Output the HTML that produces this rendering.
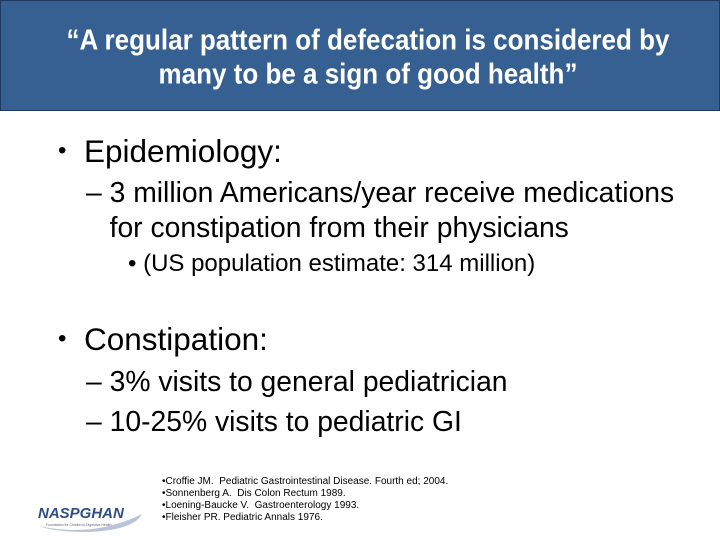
<!DOCTYPE html>
<html><head><meta charset="utf-8"><style>
body{margin:0;width:720px;height:540px;background:#fff;position:relative;overflow:hidden;font-family:"Liberation Sans",sans-serif;color:#000}
#hdr{position:absolute;left:0;top:0;width:718px;height:109px;background:#366092;border:1px solid #1f3a60}
#title{position:absolute;left:0;top:26px;width:736px;text-align:center;color:#fff;font-weight:bold;font-size:26px;line-height:31px;transform:scaleY(1.1)}
.t{position:absolute;white-space:nowrap;line-height:1.15}
.b{position:absolute;left:58px;font-size:24px}
.l1{font-size:31.5px;left:84px}
.l2{font-size:28.3px;left:86px}
.l3{font-size:24px;left:128px}
.ref{position:absolute;left:162px;top:476px;font-size:10px;line-height:12px}
</style></head><body>
<div id="hdr"></div>
<div id="title">“A regular pattern of defecation is considered by<br>many to be a sign of good health”</div>
<div class="t b" style="top:137px">•</div>
<div class="t l1" style="top:133px">Epidemiology:</div>
<div class="t l2" style="top:175px;line-height:35px">– 3 million Americans/year receive medications<br>&nbsp;&nbsp;&nbsp;for constipation from their physicians</div>
<div class="t l3" style="top:250px">• (US population estimate: 314 million)</div>
<div class="t b" style="top:325px">•</div>
<div class="t l1" style="top:321px">Constipation:</div>
<div class="t l2" style="top:365px">– 3% visits to general pediatrician</div>
<div class="t l2" style="top:405px">– 10-25% visits to pediatric GI</div>
<div class="ref">•Croffie JM.&nbsp; Pediatric Gastrointestinal Disease. Fourth ed; 2004.<br>•Sonnenberg A.&nbsp; Dis Colon Rectum 1989.<br>•Loening-Baucke V.&nbsp; Gastroenterology 1993.<br>•Fleisher PR. Pediatric Annals 1976.</div>
<svg style="position:absolute;left:34px;top:496px" width="112" height="40">
<path d="M5 30 Q60 42 108 18 Q100 34 55 36 Q20 36 5 30Z" fill="#b8c4d8"/>
<text x="4" y="22" font-family="Liberation Sans" font-weight="bold" font-style="italic" font-size="15" fill="#2d4f86">NASPGHAN</text>
<text x="12" y="30" font-size="3.5" fill="#667">Foundation for Children's Digestive Health</text>
</svg>
</body></html>
